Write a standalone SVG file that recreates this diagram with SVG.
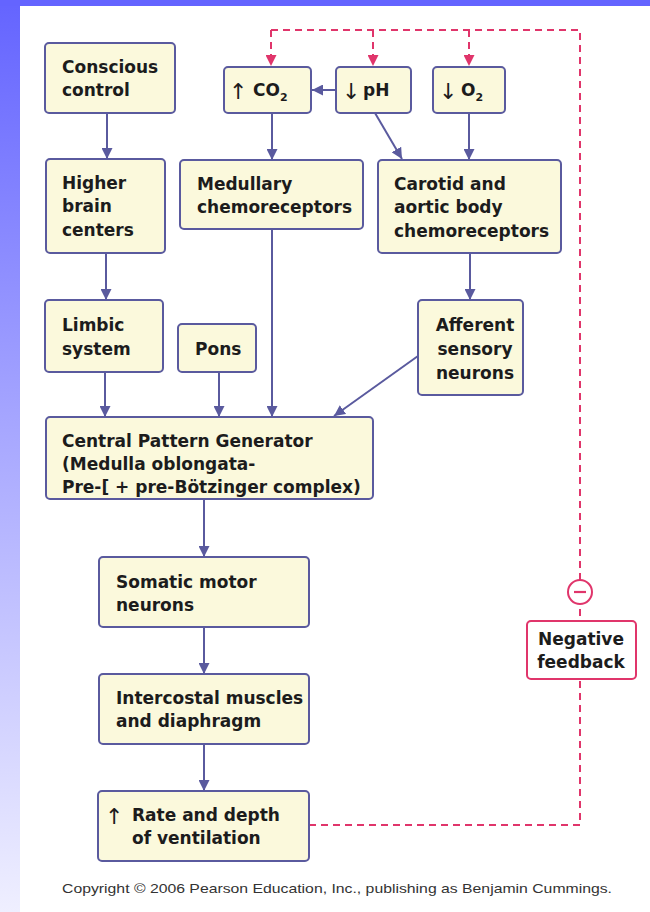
<svg xmlns="http://www.w3.org/2000/svg" width="650" height="912" viewBox="0 0 650 912">
<defs>
<linearGradient id="side" x1="0" y1="0" x2="0" y2="1">
<stop offset="0" stop-color="#6464ff"/>
<stop offset="0.45" stop-color="#a4a4ff"/>
<stop offset="1" stop-color="#efefff"/>
</linearGradient>
<marker id="ah" markerUnits="userSpaceOnUse" markerWidth="12" markerHeight="11" refX="11" refY="5.5" orient="auto">
<path d="M0,0 L11,5.5 L0,11 z" fill="#5a5a9e"/>
</marker>
<marker id="rh" markerUnits="userSpaceOnUse" markerWidth="12" markerHeight="11" refX="11" refY="5.5" orient="auto">
<path d="M0,0 L11,5.5 L0,11 z" fill="#e0356b"/>
</marker>
<style>
.box{fill:#fbf9dc;stroke:#5a5a9e;stroke-width:2}
.t{font-family:"DejaVu Sans","Liberation Sans",sans-serif;font-weight:bold;font-size:17px;fill:#1c1c1c}
.ar{font-family:"DejaVu Sans",sans-serif;font-weight:normal;font-size:22px;fill:#1c1c1c}
.c{fill:none;stroke:#5a5a9e;stroke-width:2;marker-end:url(#ah)}
.r{fill:none;stroke:#e0356b;stroke-width:2;stroke-dasharray:7 5}
.ra{fill:none;stroke:#e0356b;stroke-width:2;stroke-dasharray:7 5;marker-end:url(#rh)}
.rb{fill:#ffffff;stroke:#e0356b;stroke-width:2}
.sub{font-size:11px}
</style>
</defs>
<rect x="0" y="0" width="650" height="912" fill="#ffffff"/>
<rect x="0" y="0" width="20" height="912" fill="url(#side)"/>
<rect x="0" y="0" width="650" height="6" fill="#6464ff"/>

<g id="connectors">
<line class="c" x1="107" y1="113" x2="107" y2="159"/>
<line class="c" x1="106" y1="253" x2="106" y2="300"/>
<line class="c" x1="105" y1="372" x2="105" y2="417"/>
<line class="c" x1="219" y1="372" x2="219" y2="417"/>
<line class="c" x1="272" y1="229" x2="272" y2="417"/>
<line class="c" x1="418" y1="356" x2="334" y2="416"/>
<line class="c" x1="272" y1="113" x2="272" y2="160"/>
<line class="c" x1="375" y1="113" x2="402" y2="159"/>
<line class="c" x1="469" y1="113" x2="469" y2="160"/>
<line class="c" x1="336" y1="90" x2="312" y2="90"/>
<line class="c" x1="470" y1="253" x2="470" y2="300"/>
<line class="c" x1="204" y1="499" x2="204" y2="557"/>
<line class="c" x1="204" y1="627" x2="204" y2="674"/>
<line class="c" x1="204" y1="744" x2="204" y2="791"/>
<path class="r" d="M309,825 L580,825 L580,30 L271,30"/>
<line class="ra" x1="271" y1="30" x2="271" y2="66"/>
<line class="ra" x1="373" y1="30" x2="373" y2="66"/>
<line class="ra" x1="469" y1="30" x2="469" y2="66"/>
</g>

<g id="conscious">
<rect class="box" x="45" y="43" width="130" height="70" rx="4"/>
<text class="t" x="62" y="73">Conscious</text>
<text class="t" x="62" y="96">control</text>
</g>
<g id="co2">
<rect class="box" x="224" y="67" width="87" height="46" rx="4"/>
<text class="ar" x="229" y="99">↑</text>
<text class="t" x="253" y="96">CO<tspan class="sub" dy="5">2</tspan></text>
</g>
<g id="ph">
<rect class="box" x="336" y="67" width="75" height="46" rx="4"/>
<text class="ar" x="342" y="99">↓</text>
<text class="t" x="363" y="96">pH</text>
</g>
<g id="o2">
<rect class="box" x="433" y="67" width="72" height="46" rx="4"/>
<text class="ar" x="439" y="99">↓</text>
<text class="t" x="461" y="96">O<tspan class="sub" dy="5">2</tspan></text>
</g>
<g id="higher">
<rect class="box" x="46" y="159" width="119" height="94" rx="4"/>
<text class="t" x="62" y="189">Higher</text>
<text class="t" x="62" y="212">brain</text>
<text class="t" x="62" y="236">centers</text>
</g>
<g id="medullary">
<rect class="box" x="180" y="160" width="183" height="69" rx="4"/>
<text class="t" x="197" y="190">Medullary</text>
<text class="t" x="197" y="213">chemoreceptors</text>
</g>
<g id="carotid">
<rect class="box" x="378" y="160" width="183" height="93" rx="4"/>
<text class="t" x="394" y="190">Carotid and</text>
<text class="t" x="394" y="213">aortic body</text>
<text class="t" x="394" y="237">chemoreceptors</text>
</g>
<g id="limbic">
<rect class="box" x="45" y="300" width="118" height="72" rx="4"/>
<text class="t" x="62" y="331">Limbic</text>
<text class="t" x="62" y="355">system</text>
</g>
<g id="pons">
<rect class="box" x="178" y="324" width="78" height="48" rx="4"/>
<text class="t" x="195" y="355">Pons</text>
</g>
<g id="afferent">
<rect class="box" x="418" y="300" width="105" height="95" rx="4"/>
<text class="t" x="475" y="331" text-anchor="middle">Afferent</text>
<text class="t" x="475" y="355" text-anchor="middle">sensory</text>
<text class="t" x="475" y="379" text-anchor="middle">neurons</text>
</g>
<g id="cpg">
<rect class="box" x="46" y="417" width="327" height="82" rx="4"/>
<text class="t" x="62" y="447">Central Pattern Generator</text>
<text class="t" x="62" y="470">(Medulla oblongata-</text>
<text class="t" x="62" y="493">Pre-[ + pre-Bötzinger complex)</text>
</g>
<g id="somatic">
<rect class="box" x="99" y="557" width="210" height="70" rx="4"/>
<text class="t" x="116" y="588">Somatic motor</text>
<text class="t" x="116" y="611">neurons</text>
</g>
<g id="intercostal">
<rect class="box" x="99" y="674" width="210" height="70" rx="4"/>
<text class="t" x="116" y="704">Intercostal muscles</text>
<text class="t" x="116" y="727">and diaphragm</text>
</g>
<g id="rate">
<rect class="box" x="98" y="791" width="211" height="70" rx="4"/>
<text class="ar" x="105" y="824">↑</text>
<text class="t" x="132" y="821">Rate and depth</text>
<text class="t" x="132" y="844">of ventilation</text>
</g>
<g id="minus">
<circle class="rb" cx="580" cy="592" r="12"/>
<line x1="574" y1="592" x2="586" y2="592" stroke="#e0356b" stroke-width="2.2"/>
</g>
<g id="negative-feedback">
<rect class="rb" x="527" y="621" width="109" height="58" rx="4"/>
<text class="t" x="581" y="645" text-anchor="middle">Negative</text>
<text class="t" x="581" y="668" text-anchor="middle">feedback</text>
</g>
<text x="62" y="893" font-family="Liberation Sans, Arial, sans-serif" font-size="13" fill="#333333" textLength="550" lengthAdjust="spacingAndGlyphs">Copyright © 2006 Pearson Education, Inc., publishing as Benjamin Cummings.</text>
</svg>
